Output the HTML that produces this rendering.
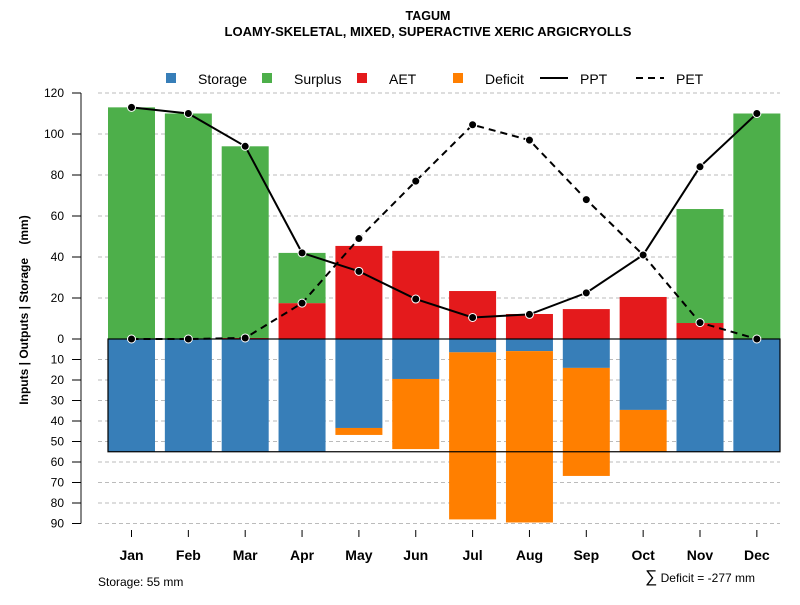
<!DOCTYPE html>
<html><head><meta charset="utf-8"><style>
body{margin:0;background:#fff;font-family:"Liberation Sans",sans-serif}
svg text{font-family:"Liberation Sans",sans-serif}
</style></head><body>
<svg id="c" width="800" height="600" xmlns="http://www.w3.org/2000/svg">
<text x="428" y="20" text-anchor="middle" font-size="12.5" font-weight="bold">TAGUM</text>
<text x="428" y="36" text-anchor="middle" font-size="13" font-weight="bold">LOAMY-SKELETAL, MIXED, SUPERACTIVE XERIC ARGICRYOLLS</text>
<g id="grid"></g><g id="bars"></g><g id="lines"></g><g id="axes"></g>
<g font-size="14">
<rect x="166" y="73" width="10" height="10" fill="#377eb8"/><text x="198" y="84">Storage</text>
<rect x="262" y="73" width="10" height="10" fill="#4daf4a"/><text x="294" y="84">Surplus</text>
<rect x="357" y="73" width="10" height="10" fill="#e41a1c"/><text x="389" y="84">AET</text>
<rect x="453" y="73" width="10" height="10" fill="#ff7f00"/><text x="485" y="84">Deficit</text>
<line x1="540" y1="78" x2="568" y2="78" stroke="#000" stroke-width="2"/><text x="580" y="84">PPT</text>
<line x1="636" y1="78" x2="664" y2="78" stroke="#000" stroke-width="2" stroke-dasharray="7,5"/><text x="676" y="84">PET</text>
</g>
<text transform="translate(28,310) rotate(-90)" text-anchor="middle" font-size="12" font-weight="bold" style="white-space:pre">Inputs | Outputs | Storage    (mm)</text>
<text x="98" y="586" font-size="12">Storage: 55 mm</text>
<text x="755" y="582" text-anchor="end" font-size="12"><tspan font-size="17">∑</tspan> Deficit = -277 mm</text>
</svg>
<script>
const months=["Jan","Feb","Mar","Apr","May","Jun","Jul","Aug","Sep","Oct","Nov","Dec"];
const ppt=[113,110,94,42,33,19.5,10.5,12,22.5,41,84,110];
const pet=[0,0,0.5,17.5,49,77,104.5,97,68,41,8,0];
const aet=[0,0,0.5,17.5,45.4,43,23.4,12.2,14.6,20.5,7.8,0];
const surplus=[113,110,93.5,24.5,0,0,0,0,0,0,55.6,110];
const storage=[55,55,55,55,43.4,19.5,6.5,5.9,14.1,34.6,55,55];
const deficit=[0,0,0,0,3.4,34.2,81.5,83.6,52.7,20.4,0,0];
const posTicks=[0,20,40,60,80,100,120];
const negTicks=[10,20,30,40,50,60,70,80,90];
const capacity=55;
const NS="http://www.w3.org/2000/svg";
const y0=339,k=2.05;
const yp=v=>y0-v*k, yn=v=>y0+v*k;
const xc=i=>131.5+i*56.85;
const bw=47;
function mk(t,a,p){const e=document.createElementNS(NS,t);for(const q in a)e.setAttribute(q,a[q]);document.getElementById(p).appendChild(e);return e;}
posTicks.forEach(v=>{if(v>0){const l=mk('line',{x1:98,x2:780,y1:yp(v),y2:yp(v),stroke:'#bbb','stroke-dasharray':'4,3'},'grid');

}});
negTicks.forEach(v=>{const l=mk('line',{x1:98,x2:780,y1:yn(v),y2:yn(v),stroke:'#bbb','stroke-dasharray':'4,3'},'grid');

});
months.forEach((m,i)=>{
 const x=xc(i)-bw/2;
 let r=mk('rect',{x:x,y:yp(aet[i]),width:bw,height:aet[i]*k,fill:'#e41a1c'},'bars');
 
 
 r=mk('rect',{x:x,y:yp(aet[i]+surplus[i]),width:bw,height:surplus[i]*k,fill:'#4daf4a'},'bars');
 
 
 r=mk('rect',{x:x,y:y0,width:bw,height:storage[i]*k,fill:'#377eb8'},'bars');
 
 
 r=mk('rect',{x:x,y:yn(storage[i]),width:bw,height:deficit[i]*k,fill:'#ff7f00'},'bars');
 
 
});
const box=mk('rect',{x:108,y:y0,width:672,height:capacity*k,fill:'none',stroke:'#000','stroke-width':1.2},'bars');


function series(vals,name,dash){
 const p=mk('polyline',{points:vals.map((v,i)=>xc(i)+','+yp(v)).join(' '),fill:'none',stroke:'#000','stroke-width':2,'stroke-dasharray':dash},'lines');
 
 
 vals.forEach((v,i)=>{const c=mk('circle',{cx:xc(i),cy:yp(v),r:4,fill:'#000',stroke:'#fff','stroke-width':1},'lines');
 
 });
}
series(pet,'pet','7,5');
series(ppt,'ppt','none');
let a=mk('line',{x1:81,x2:81,y1:yp(120),y2:yn(90),stroke:'#888','stroke-width':2},'axes');


function tick(y,lab){const t=mk('line',{x1:72,x2:81,y1:y,y2:y,stroke:'#000'},'axes');
 
 
 const tx=mk('text',{x:64,y:y+4,'text-anchor':'end','font-size':12},'axes');tx.textContent=lab;
 
 }
posTicks.forEach(v=>tick(yp(v),v));
negTicks.forEach(v=>tick(yn(v),v));
months.forEach((m,i)=>{const t=mk('line',{x1:xc(i),x2:xc(i),y1:530,y2:537,stroke:'#000'},'axes');
 
 
 const tx=mk('text',{x:xc(i),y:560,'text-anchor':'middle','font-size':14,'font-weight':'bold'},'axes');tx.textContent=m;
 
 });
</script>
</body></html>
